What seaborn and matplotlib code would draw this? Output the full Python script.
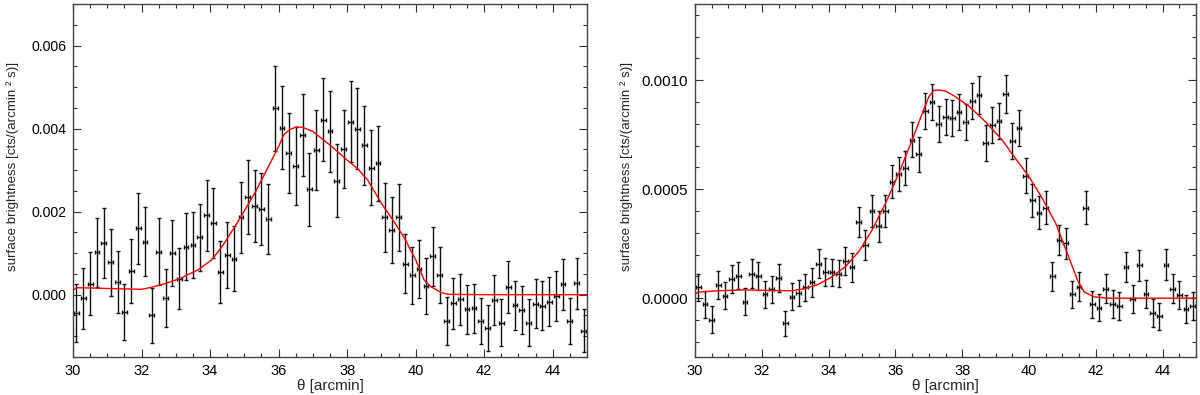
import numpy as np
import matplotlib
matplotlib.use("Agg")
import matplotlib.pyplot as plt
from matplotlib.ticker import MultipleLocator, FormatStrFormatter
import seaborn as sns
import pandas as pd

# ---------------- data: left panel ----------------
theta_left = [30.1 + 0.2 * i for i in range(75)]
sb_left = [
    -0.00045, -0.00009, 0.00026, 0.00102, 0.00125, 0.00078, 0.00030, -0.00042, 0.00058, 0.00160,
    0.00128, -0.00050, 0.00104, -0.00007, 0.00101, 0.00039, 0.00116, 0.00120, 0.00138, 0.00191,
    0.00173, 0.00055, 0.00096, 0.00087, 0.00186, 0.00236, 0.00214, 0.00206, 0.00182, 0.00449,
    0.00402, 0.00342, 0.00310, 0.00385, 0.00254, 0.00349, 0.00421, 0.00393, 0.00275, 0.00350,
    0.00417, 0.00400, 0.00360, 0.00306, 0.00316, 0.00186, 0.00156, 0.00186, 0.00075, 0.00047,
    0.00061, 0.00021, 0.00092, 0.00047, -0.00063, -0.00021, -0.00011, -0.00035, -0.00033, -0.00063,
    -0.00080, -0.00013, -0.00067, 0.00019, -0.00025, -0.00037, -0.00067, -0.00022, -0.00027, -0.00017,
    -0.00003, 0.00025, -0.00063, 0.00027, -0.00087,
]
err_left = [
    0.00070, 0.00073, 0.00076, 0.00083, 0.00084, 0.00080, 0.00075, 0.00068, 0.00077, 0.00085,
    0.00083, 0.00067, 0.00080, 0.00070, 0.00079, 0.00074, 0.00080, 0.00080, 0.00081, 0.00086,
    0.00084, 0.00075, 0.00080, 0.00078, 0.00086, 0.00089, 0.00087, 0.00086, 0.00085, 0.00102,
    0.00100, 0.00096, 0.00094, 0.00098, 0.00088, 0.00096, 0.00100, 0.00098, 0.00089, 0.00094,
    0.00098, 0.00098, 0.00095, 0.00091, 0.00091, 0.00083, 0.00080, 0.00081, 0.00072, 0.00069,
    0.00070, 0.00067, 0.00072, 0.00067, 0.00058, 0.00061, 0.00061, 0.00059, 0.00059, 0.00056,
    0.00055, 0.00060, 0.00056, 0.00063, 0.00059, 0.00058, 0.00056, 0.00059, 0.00059, 0.00059,
    0.00060, 0.00062, 0.00055, 0.00062, 0.00052,
]
model_left_x = [30.0, 30.1, 31.0, 32.0, 32.3, 32.7, 33.15, 33.65, 34.05, 34.35, 34.6, 34.9, 35.3,
                35.7, 36.0, 36.15, 36.3, 36.5, 36.7, 37.0, 37.55, 38.0, 38.3, 38.6, 39.0, 39.4,
                39.7, 40.0, 40.25, 40.45, 40.75, 40.95, 42.0, 45.0]
model_left_y = [0.00010, 0.00017, 0.00015, 0.00013, 0.00018, 0.00027, 0.00040, 0.00060, 0.00084,
                0.00116, 0.00148, 0.00188, 0.00244, 0.00308, 0.00357, 0.00385, 0.00396, 0.00404,
                0.00403, 0.00393, 0.00357, 0.00324, 0.00304, 0.00276, 0.00220, 0.00172, 0.00132,
                0.00084, 0.00035, 0.00019, 0.00005, 0.00001, 0.0, 0.0]

# ---------------- data: right panel ----------------
theta_right = [30.1 + 0.2 * i for i in range(75)]
sb_right = [
    0.000049, -0.000028, -0.000098, 0.000060, 0.000012, 0.000086, 0.000104, -0.000017, 0.000113, 0.000101,
    0.000017, 0.000040, 0.000093, -0.000116, 0.000006, 0.000024, 0.000049, 0.000072, 0.000159, 0.000121,
    0.000118, 0.000113, 0.000171, 0.000141, 0.000350, 0.000246, 0.000400, 0.000330, 0.000400, 0.000534,
    0.000569, 0.000599, 0.000728, 0.000660, 0.000858, 0.000899, 0.000798, 0.000832, 0.000827, 0.000855,
    0.000809, 0.000905, 0.000933, 0.000713, 0.000794, 0.000813, 0.000939, 0.000722, 0.000781, 0.000561,
    0.000450, 0.000393, 0.000416, 0.000101, 0.000266, 0.000251, 0.000017, 0.000052, 0.000416, -0.000028,
    -0.000044, 0.000044, -0.000028, -0.000035, 0.000144, -0.000005, 0.000150, 0.000018, -0.000070, -0.000083,
    0.000154, 0.000043, 0.000014, -0.000049, -0.000037,
]
err_right = [
    0.000063, 0.000061, 0.000062, 0.000065, 0.000063, 0.000064, 0.000064, 0.000062, 0.000067, 0.000065,
    0.000063, 0.000063, 0.000064, 0.000059, 0.000062, 0.000061, 0.000061, 0.000067, 0.000067, 0.000065,
    0.000064, 0.000063, 0.000064, 0.000067, 0.000070, 0.000069, 0.000073, 0.000070, 0.000073, 0.000076,
    0.000077, 0.000078, 0.000080, 0.000079, 0.000083, 0.000083, 0.000083, 0.000083, 0.000084, 0.000084,
    0.000083, 0.000084, 0.000087, 0.000082, 0.000084, 0.000084, 0.000087, 0.000082, 0.000084, 0.000080,
    0.000076, 0.000076, 0.000074, 0.000067, 0.000070, 0.000070, 0.000064, 0.000066, 0.000075, 0.000063,
    0.000063, 0.000066, 0.000064, 0.000063, 0.000070, 0.000064, 0.000070, 0.000065, 0.000064, 0.000063,
    0.000070, 0.000067, 0.000065, 0.000063, 0.000065,
]
model_right_x = [30.0, 30.1, 30.7, 31.5, 32.3, 32.9, 33.3, 33.7, 34.1, 34.5, 34.9, 35.3, 35.7, 36.1,
                 36.5, 36.8, 37.0, 37.15, 37.3, 37.5, 37.8, 38.2, 38.7, 39.2, 39.6, 40.0, 40.4, 40.8,
                 41.15, 41.45, 41.65, 41.95, 42.35, 45.0]
model_right_y = [0.000018, 0.000028, 0.000034, 0.000038, 0.000035, 0.000034, 0.000044, 0.000064,
                 0.000098, 0.000144, 0.000213, 0.000312, 0.000434, 0.000572, 0.000725, 0.000847,
                 0.000924, 0.000954, 0.000955, 0.000951, 0.000924, 0.000881, 0.000809, 0.000725,
                 0.000640, 0.000557, 0.000457, 0.000343, 0.000205, 0.000083, 0.000029, 0.000006,
                 0.0, 0.0]

x_ticks = [30, 32, 34, 36, 38, 40, 42, 44]

# ---------------- style ----------------
sns.set_style("ticks")
plt.rcParams["font.family"] = ["Liberation Sans", "DejaVu Sans"]
plt.rcParams["font.size"] = 10.5

fig = plt.figure(figsize=(12, 3.95), dpi=100)
ax1 = fig.add_axes([73 / 1200, 38 / 395, 514 / 1200, 353 / 395])
ax2 = fig.add_axes([695 / 1200, 38 / 395, 501 / 1200, 353 / 395])


def draw(ax, x, y, e, mx, my, ylim, major, minor, fmt, ysize, label_x):
    ax.errorbar(x, y, yerr=e, xerr=0.07, fmt="none", ecolor="#111111",
                elinewidth=1.0, capsize=1.7, capthick=1.0, zorder=2)
    dm = pd.DataFrame({"theta": mx, "sb": my})
    sns.lineplot(data=dm, x="theta", y="sb", ax=ax, color="red", lw=1.0,
                 zorder=3, sort=False)
    ax.set_xlim(30, 45)
    ax.set_ylim(*ylim)
    ax.set_xticks(x_ticks)
    ax.xaxis.set_minor_locator(MultipleLocator(0.5))
    ax.yaxis.set_major_locator(MultipleLocator(major))
    ax.yaxis.set_minor_locator(MultipleLocator(minor))
    ax.yaxis.set_major_formatter(FormatStrFormatter(fmt))
    ax.tick_params(which="both", direction="in", top=True, right=True,
                   color="#333333", labelcolor="black")
    ax.tick_params(axis="x", labelsize=10.5)
    ax.tick_params(axis="y", labelsize=ysize)
    ax.tick_params(which="major", length=6, width=0.8, pad=5)
    ax.tick_params(which="minor", length=3, width=0.8)
    for s in ax.spines.values():
        s.set_color("#444444")
        s.set_linewidth(1.0)
    ax.set_xlabel("θ [arcmin]", fontsize=11, labelpad=1)
    ax.set_ylabel("surface brightness [cts/(arcmin ² s)]", fontsize=9.6)
    ax.yaxis.set_label_coords(label_x, 0.541)


draw(ax1, theta_left, sb_left, err_left, model_left_x, model_left_y,
     (-0.0015, 0.007), 0.002, 0.0005, "%.3f", 10.2, -0.106)
draw(ax2, theta_right, sb_right, err_right, model_right_x, model_right_y,
     (-0.00027, 0.00135), 0.0005, 0.0001, "%.4f", 10.8, -0.124)

fig.savefig("out.png", dpi=100)
